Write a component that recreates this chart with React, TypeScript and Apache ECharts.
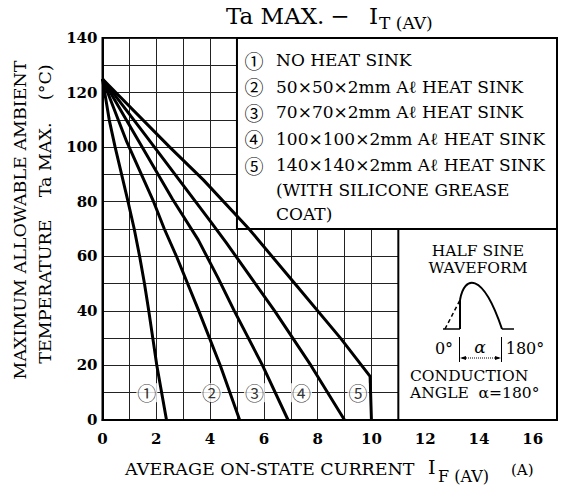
import React, { useEffect, useRef } from "react";
import * as echarts from "echarts";

const SERIF = '"DejaVu Serif", "Liberation Serif", serif';
const CIRC = '"Noto Sans CJK JP", "Noto Sans CJK SC", "DejaVu Sans", sans-serif';

// Curves: [I_F(AV) (A), Ta MAX (°C)]
const curve1 = [[0, 125], [0.25, 110], [0.47, 100], [0.71, 90], [0.95, 80], [1.18, 70], [1.38, 60], [1.56, 50], [1.72, 40], [1.87, 30], [2.02, 20], [2.2, 10], [2.38, 0]];
const curve2 = [[0, 125], [0.9, 102], [1.9, 80], [2.3, 70], [2.75, 60], [3.58, 40], [4.38, 20], [5.1, 0]];
const curve3 = [[0, 125], [1.3, 103], [2.6, 81], [3.56, 66], [4.3, 52], [4.9, 40], [5.95, 20], [6.9, 0]];
const curve4 = [[0, 125], [1.7, 103], [2.85, 88], [4.0, 73], [4.6, 65], [6.4, 40], [7.75, 20], [9.0, 0]];
const curve5 = [[0, 125], [2.5, 100], [3.75, 88], [5.45, 70], [7.15, 50], [8.85, 30], [9.95, 16], [10, 0]];
const curves = [curve1, curve2, curve3, curve4, curve5];

const curveNames = ["①", "②", "③", "④", "⑤"];
const markerX = [1.65, 4.05, 5.65, 7.4, 9.5];
const markerY = 10;

const legendMarks = ["①", "②", "③", "④", "⑤", "", ""];
const legendTexts = [
  "NO HEAT SINK",
  "50×50×2mm Aℓ HEAT SINK",
  "70×70×2mm Aℓ HEAT SINK",
  "100×100×2mm Aℓ HEAT SINK",
  "140×140×2mm Aℓ HEAT SINK",
  "(WITH SILICONE GREASE",
  "COAT)",
];

const X_MIN = 0;
const X_MAX = 16.9;
const Y_MIN = 0;
const Y_MAX = 140;
const legendBox = [[5, 70], [X_MAX, 140]];
const waveBox = [[11, 0], [X_MAX, 70]];

export default function App() {
  const ref = useRef<HTMLDivElement>(null);
  useEffect(() => {
    if (!ref.current) return;
    const chart = echarts.init(ref.current, null, { renderer: "svg" });
    const txt = (text: string, x: number, y: number, size: number, extra: any = {}, el: any = {}) => ({
      type: "text",
      x,
      y,
      z: 100,
      ...el,
      style: {
        text,
        fontFamily: SERIF,
        fontSize: size,
        fill: "#000",
        align: "left",
        verticalAlign: "middle",
        ...extra,
      },
    });
    const legendRows = [60, 86.5, 112, 138.5, 165, 190, 214];
    const graphics: any[] = [];
    // title
    graphics.push(txt("Ta MAX.", 226, 16, 23));
    graphics.push(txt("−", 340, 16, 23, { align: "center" }));
    graphics.push(txt("I", 369, 16, 23));
    graphics.push(txt("T (AV)", 379, 23, 17));
    // y axis names
    graphics.push({
      type: "text", x: 20, y: 220, rotation: Math.PI / 2, z: 100,
      style: { text: "MAXIMUM ALLOWABLE AMBIENT", fontFamily: SERIF, fontSize: 17.5, fill: "#000", align: "center", verticalAlign: "middle" },
    });
    graphics.push({
      type: "text", x: 45, y: 214, rotation: Math.PI / 2, z: 100,
      style: { text: "TEMPERATURE    Ta MAX.    (°C)", fontFamily: SERIF, fontSize: 17.5, fill: "#000", align: "center", verticalAlign: "middle" },
    });
    // x axis name
    graphics.push(txt("AVERAGE ON-STATE CURRENT", 125, 469, 17.5));
    graphics.push(txt("I", 428, 467, 19));
    graphics.push(txt("F (AV)", 438, 476, 16));
    graphics.push(txt("(A)", 511, 470, 15));
    // legend
    legendRows.forEach((y, i) => {
      if (legendMarks[i]) graphics.push(txt(legendMarks[i], 254, y, 19, { align: "center", fontFamily: CIRC }));
      graphics.push(txt(legendTexts[i], 276, y, 17));
    });
    // waveform panel
    graphics.push(txt("HALF SINE", 478, 251, 15.5, { align: "center" }));
    graphics.push(txt("WAVEFORM", 478, 268, 15.5, { align: "center" }));
    graphics.push(txt("CONDUCTION", 410, 376, 15.5, { align: "left" }));
    graphics.push(txt("ANGLE  α=180°", 410, 393, 15.5, { align: "left" }));
    graphics.push(txt("0°", 444, 348, 16, { align: "center" }));
    graphics.push(txt("α", 480, 347, 17, { align: "center", fontStyle: "italic" }));
    graphics.push(txt("180°", 525, 348, 16, { align: "center" }));
    const ls = { stroke: "#000", lineWidth: 1.5, fill: "none" };
    graphics.push({ type: "line", z: 100, shape: { x1: 443, y1: 329, x2: 460, y2: 329 }, style: ls });
    graphics.push({ type: "line", z: 100, shape: { x1: 502, y1: 329, x2: 514, y2: 329 }, style: ls });
    graphics.push({ type: "line", z: 100, shape: { x1: 460, y1: 329, x2: 460, y2: 300 }, style: { ...ls, lineWidth: 2 } });
    graphics.push({ type: "line", z: 100, shape: { x1: 445, y1: 329, x2: 460, y2: 300 }, style: { ...ls, lineDash: [4, 3] } });
    graphics.push({
      type: "bezierCurve", z: 100,
      shape: { x1: 460, y1: 300, cpx1: 464, cpy1: 276, cpx2: 482, cpy2: 270, x2: 502, y2: 329 },
      style: { ...ls, lineWidth: 2 },
    });
    graphics.push({ type: "line", z: 100, shape: { x1: 459.5, y1: 337, x2: 459.5, y2: 362 }, style: { stroke: "#000", lineWidth: 1 } });
    graphics.push({ type: "line", z: 100, shape: { x1: 501.5, y1: 337, x2: 501.5, y2: 362 }, style: { stroke: "#000", lineWidth: 1 } });
    graphics.push({ type: "line", z: 100, shape: { x1: 462, y1: 358, x2: 499, y2: 358 }, style: { stroke: "#000", lineWidth: 1, lineDash: [1, 1] } });
    graphics.push({ type: "polygon", z: 100, shape: { points: [[460, 358], [466, 356], [466, 360]] }, style: { fill: "#000" } });
    graphics.push({ type: "polygon", z: 100, shape: { points: [[501, 358], [495, 356], [495, 360]] }, style: { fill: "#000" } });

    const series: any[] = curves.map((d, i) => ({
      type: "line",
      name: curveNames[i],
      data: d,
      symbol: "none",
      silent: true,
      z: 3,
      lineStyle: { color: "#000", width: 3 },
      ...(i === 0
        ? {
            markArea: {
              silent: true,
              itemStyle: { color: "#fff", borderColor: "#000", borderWidth: 2 },
              data: [
                [{ coord: legendBox[0] }, { coord: legendBox[1] }],
                [{ coord: waveBox[0] }, { coord: waveBox[1] }],
              ],
            },
          }
        : {}),
    }));
    series.push({
      type: "scatter",
      silent: true,
      z: 4,
      symbolSize: 1,
      itemStyle: { color: "rgba(0,0,0,0)" },
      data: markerX.map((x) => [x, markerY]),
      label: {
        show: true,
        position: "inside",
        formatter: (p: any) => curveNames[p.dataIndex],
        fontSize: 19,
        color: "#000",
        backgroundColor: "#fff",
        padding: [0, 1],
        fontFamily: CIRC,
      },
    });

    chart.setOption({
      animation: false,
      backgroundColor: "#fff",
      grid: { left: 102.5, right: 6, top: 38, bottom: 68, show: true, borderColor: "#000", borderWidth: 2, backgroundColor: "transparent" },
      xAxis: {
        type: "value",
        min: X_MIN,
        max: X_MAX,
        interval: 1,
        axisLine: { show: true, lineStyle: { color: "#000", width: 2 } },
        axisTick: { show: false },
        splitLine: { show: true, lineStyle: { color: "#222", width: 1 } },
        axisLabel: {
          margin: 11,
          color: "#000",
          fontFamily: SERIF,
          fontSize: 15,
          fontWeight: "bold",
          formatter: (v: number) => (Number.isInteger(v) && v % 2 === 0 ? String(v) : ""),
        },
      },
      yAxis: {
        type: "value",
        min: Y_MIN,
        max: Y_MAX,
        interval: 10,
        axisLine: { show: true, lineStyle: { color: "#000", width: 2 } },
        axisTick: { show: false },
        splitLine: { show: true, lineStyle: { color: "#222", width: 1 } },
        axisLabel: {
          margin: 5,
          color: "#000",
          fontFamily: SERIF,
          fontSize: 15,
          fontWeight: "bold",
          formatter: (v: number) => (v % 20 === 0 ? String(v) : ""),
        },
      },
      series,
      graphic: graphics,
    });
    return () => chart.dispose();
  }, []);
  return <div ref={ref} style={{ position: "absolute", left: 0, top: 0, width: 563, height: 488 }} />;
}
